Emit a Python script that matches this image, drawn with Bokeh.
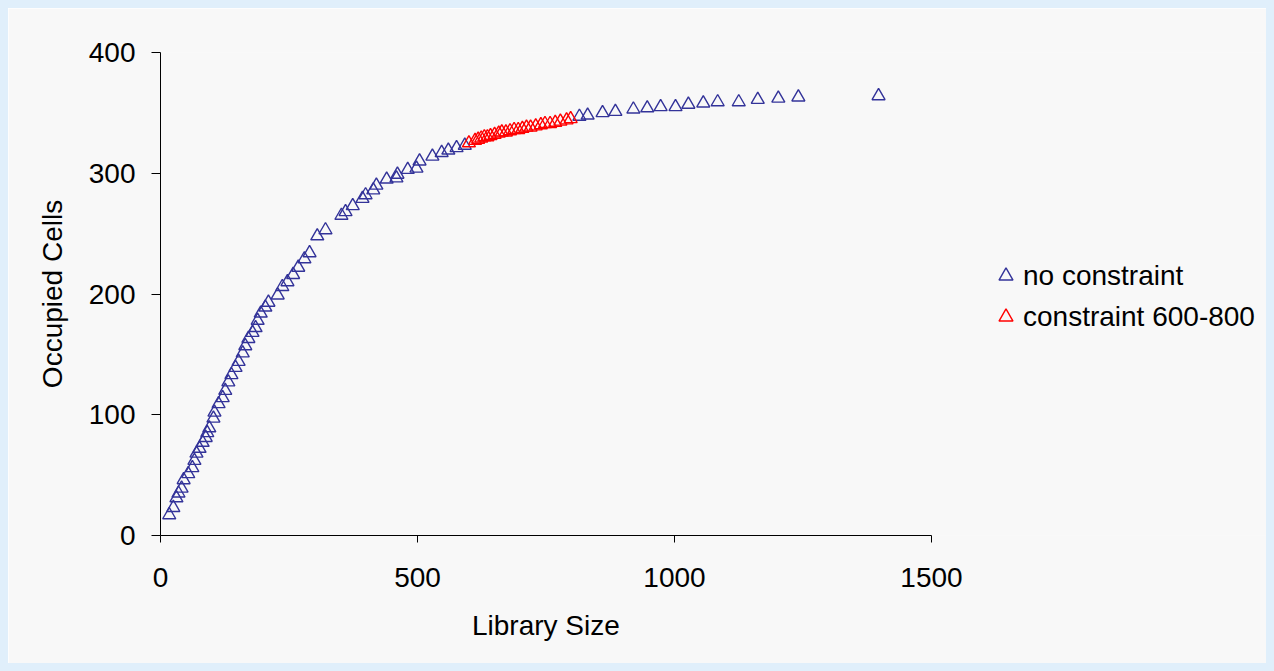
from bokeh.plotting import figure
from bokeh.models import Range1d, Legend, LegendItem, FixedTicker, Title
from bokeh.embed import file_html
from bokeh.resources import INLINE

# no constraint
blue_x = [17, 25, 31, 35, 41, 45, 54, 62, 66, 70, 76, 82, 88, 91, 95, 103, 105, 113, 121, 126,
          132, 138, 146, 152, 160, 165, 171, 179, 185, 189, 195, 204, 210, 228, 237, 247, 258, 268,
          280, 290, 305, 321, 352, 360, 374, 393, 399, 414, 420, 440, 459, 461, 481, 498, 504, 529,
          547, 560, 576, 592, 815, 831, 860, 885, 920, 947, 973, 1002, 1027, 1056, 1084, 1125,
          1162, 1202, 1241, 1397]
blue_y = [17, 23, 31, 35, 39, 46, 51, 56, 62, 68, 72, 77, 81, 85, 89, 97, 102, 109, 114, 120,
          127, 133, 139, 144, 151, 157, 163, 168, 172, 178, 184, 189, 193, 199, 206, 210, 216, 222,
          229, 234, 248, 253, 265, 268, 273, 279, 282, 286, 290, 295, 296, 299, 303, 304, 310, 314,
          317, 319, 321, 323, 347, 348, 350, 351, 353, 354, 355, 355, 357, 358, 359, 359,
          361, 362, 363, 364]

# constraint 600-800
red_x = [600, 612, 618, 624, 630, 636, 642, 650, 658, 664, 672, 680, 688, 696, 704, 712, 720,
         730, 740, 748, 758, 768, 778, 790, 798]
red_y = [325, 327, 328, 329, 330, 330, 331, 332, 333, 334, 334, 335, 336, 336, 337, 338, 338,
         339, 340, 341, 341, 342, 343, 344, 345]

x_ticks = [0, 500, 1000, 1500]
y_ticks = [0, 100, 200, 300, 400]
x_axis_max = 1500
y_axis_max = 400

FONT = "Liberation Sans"
BG = "#f8f8f8"

EDGE = 8                      # light-blue page edge around the chart (CSS border)
W, H = 1274, 671
LEFT, TOP = 160 - EDGE, 52 - EDGE
FRAME_H = 483
BOTTOM = H - TOP - FRAME_H
AXIS_PX = 771                 # pixel length of the drawn x axis (0..1500)
FRAME_W = W - LEFT
x_view_max = x_axis_max * FRAME_W / AXIS_PX  # frame extends right to hold the legend

p = figure(width=W, height=H, output_backend="svg", toolbar_location=None,
           x_range=Range1d(0, x_view_max), y_range=Range1d(0, y_axis_max),
           min_border_left=LEFT, min_border_right=0, min_border_top=TOP, min_border_bottom=BOTTOM,
           background_fill_color=BG, border_fill_color=BG, outline_line_color=None)
p.styles = {"border": f"{EDGE}px solid #e0effb"}

p.xgrid.visible = False
p.ygrid.visible = False

for ax in (p.xaxis, p.yaxis):
    ax.axis_line_color = "#000000"
    ax.major_tick_line_color = "#000000"
    ax.minor_tick_line_color = None
    ax.major_tick_in = 0
    ax.major_label_text_font = FONT
    ax.major_label_text_font_size = "28px"
    ax.major_label_text_color = "#000000"
    ax.axis_label_text_font = FONT
    ax.axis_label_text_font_size = "28px"
    ax.axis_label_text_font_style = "normal"
    ax.axis_label_text_color = "#000000"

p.xaxis.bounds = (0, x_axis_max)
p.xaxis.ticker = FixedTicker(ticks=x_ticks)
p.yaxis.ticker = FixedTicker(ticks=y_ticks)
p.xaxis.major_tick_out = 7
p.yaxis.major_tick_out = 9
p.xaxis.major_label_standoff = 25
p.yaxis.major_label_standoff = 16
p.yaxis.axis_label = "Occupied Cells"
p.yaxis.axis_label_standoff = 18

# x-axis title centred under the 0..1500 axis
xlabel = "Library Size"
xlabel_w = 148
p.add_layout(Title(text=xlabel, align="left", offset=(AXIS_PX - xlabel_w) / 2,
                   text_font=FONT, text_font_size="28px", text_font_style="normal",
                   text_color="#000000", standoff=41, vertical_align="top"), "below")

r1 = p.scatter(blue_x, blue_y, marker="triangle", size=13, fill_color=None,
               line_color="#333399", line_width=1.4)
r2 = p.scatter(red_x, red_y, marker="triangle", size=13, fill_color=None,
               line_color="#ff0000", line_width=1.4)

legend = Legend(items=[LegendItem(label="no constraint", renderers=[r1]),
                       LegendItem(label="constraint 600-800", renderers=[r2])],
                location=(828, 201), padding=0, margin=0, spacing=6,
                glyph_width=35, glyph_height=35, label_standoff=0,
                label_text_font=FONT, label_text_font_size="28px",
                label_text_color="#000000",
                border_line_color=None, background_fill_alpha=0)
p.add_layout(legend, "center")

open("out.html", "w").write(file_html(p, INLINE))
